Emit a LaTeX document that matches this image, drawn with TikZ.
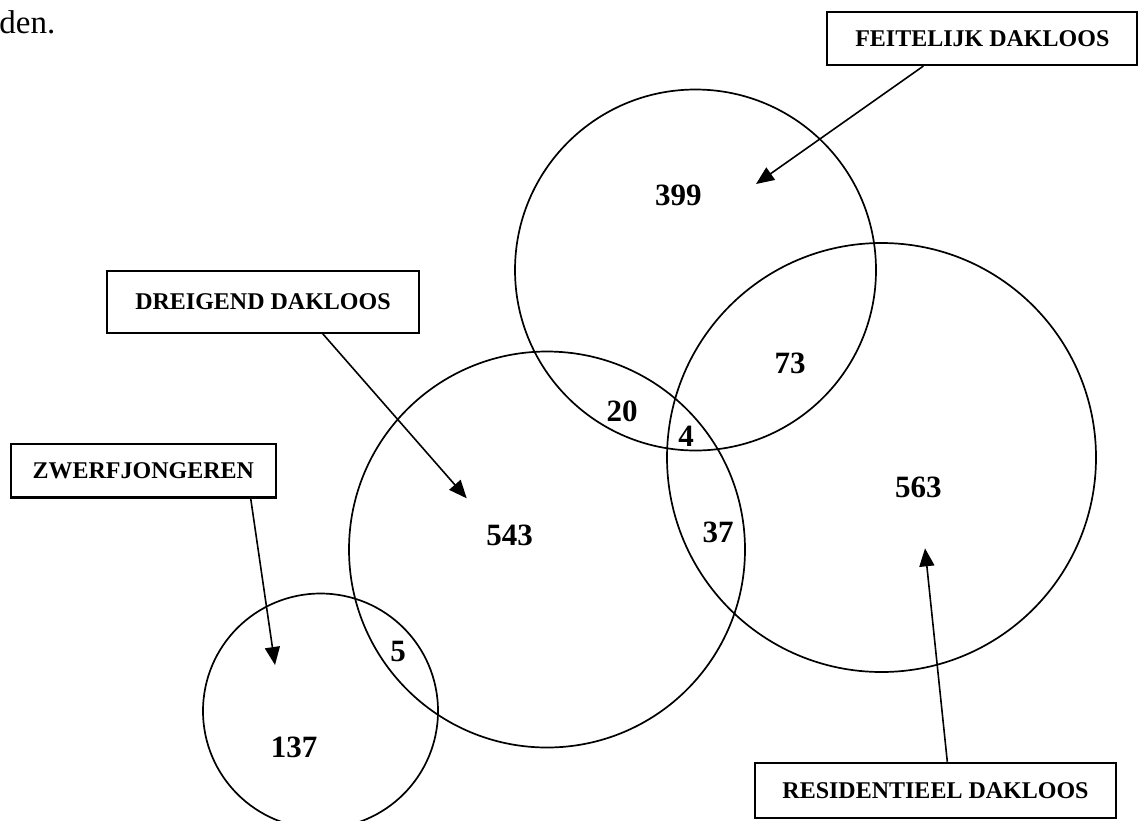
\documentclass[tikz,border=0pt]{standalone}
\usepackage{fontspec}
\setmainfont{Liberation Serif}
\usetikzlibrary{arrows.meta}

\tikzset{
  venn/.style={draw, circle, line width=0.85pt, inner sep=0pt},
  labelbox/.style={draw, line width=1.1pt, inner sep=0pt,
    font=\fontsize{12}{14}\selectfont\bfseries},
  count/.style={inner sep=0pt, font=\fontsize{15.5}{18}\selectfont\bfseries},
  pointer/.style={-{Triangle[length=9pt,width=7.5pt]}, line width=0.8pt},
}

\begin{document}
\begin{tikzpicture}[x=0.5pt, y=-0.5pt]
\useasboundingbox (0,0) rectangle (1138,820);

% end of the sentence above the figure
\node[anchor=base west, inner sep=0pt, font=\fontsize{16.5}{19}\selectfont]
  (tail) at (-1,33.3) {den.};

%---------------------------------------
% Circles
%---------------------------------------
\node[venn, minimum size=180.5pt] (feit)  at (695.5,270)   {};  % feitelijk
\node[venn, minimum size=214.5pt] (resi)  at (881.5,457.5) {};  % residentieel
\node[venn, minimum size=198pt]   (dreig) at (547,549.5)   {};  % dreigend
\node[venn, minimum size=117.5pt] (zwerf) at (320.5,711)   {};  % zwerfjongeren

%---------------------------------------
% Counts
%---------------------------------------
\node[count] (n399) at (678.3,195.8) {399};
\node[count] (n73)  at (790,363.5)   {73};
\node[count] (n20)  at (622,411.5)   {20};
\node[count] (n4)   at (686.2,436.3) {4};
\node[count] (n37)  at (718,532)     {37};
\node[count] (n543) at (509.7,535.8) {543};
\node[count] (n563) at (918.3,487.5) {563};
\node[count] (n5)   at (398,651.7)   {5};
\node[count] (n137) at (294.2,747)   {137};

%---------------------------------------
% Labels
%---------------------------------------
\node[labelbox, minimum width=155pt, minimum height=26.7pt]
  (feitbox) at (982.3,38.3) {FEITELIJK DAKLOOS};
\node[labelbox, minimum width=156pt, minimum height=30.8pt]
  (dreigbox) at (263,301.8) {DREIGEND DAKLOOS};
\node[labelbox, minimum width=132.3pt, minimum height=26.7pt]
  (zwerfbox) at (143.3,470.7) {ZWERFJONGEREN};
\node[labelbox, minimum width=180.5pt, minimum height=27.5pt]
  (resibox) at (935.5,790.3) {RESIDENTIEEL DAKLOOS};

% Arrow tips
\coordinate (feittip)  at (756,184);
\coordinate (dreigtip) at (466.7,498.3);
\coordinate (zwerftip) at (275,665);
\coordinate (resitip)  at (925,548.3);

\draw[pointer] ([xshift=-29.5pt]feitbox.south) -- (feittip);
\draw[pointer] ([xshift=29.85pt]dreigbox.south) -- (dreigtip);
\draw[pointer] ([xshift=53.7pt]zwerfbox.south) -- (zwerftip);
\draw[pointer] ([xshift=5.9pt]resibox.north) -- (resitip);

\end{tikzpicture}
\end{document}
